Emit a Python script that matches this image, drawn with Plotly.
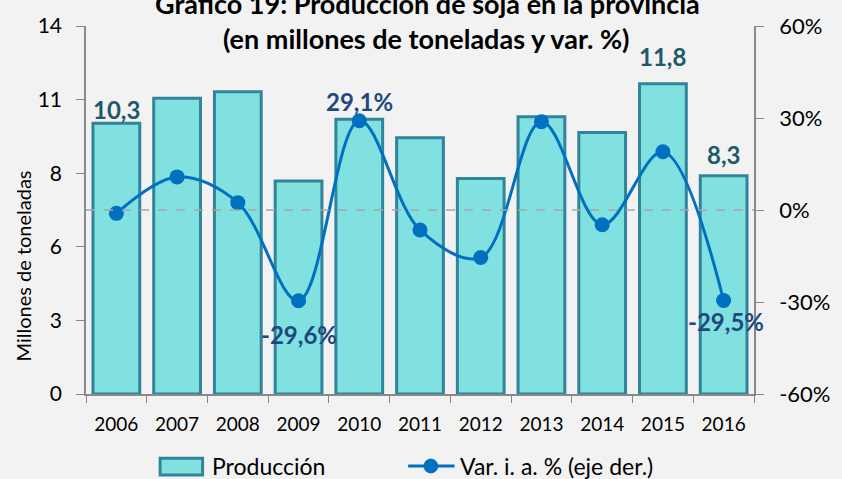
import plotly.graph_objects as go

years = ["2006", "2007", "2008", "2009", "2010", "2011", "2012", "2013", "2014", "2015", "2016"]
produccion = [10.3, 11.25, 11.5, 8.1, 10.45, 9.75, 8.2, 10.55, 9.95, 11.8, 8.3]
variacion = [-1.1, 10.8, 2.4, -29.6, 29.1, -6.5, -15.5, 28.8, -4.8, 19.0, -29.5]

left_tickvals = [0, 2.8, 5.6, 8.4, 11.2, 14]
left_ticktext = ["0", "3", "6", "8", "11", "14"]
right_tickvals = [-60, -30, 0, 30, 60]
right_ticktext = ["-60%", "-30%", "0%", "30%", "60%"]

bar_labels = {"2006": "10,3", "2015": "11,8", "2016": "8,3"}
bar_label_shift = {"2006": 14, "2015": 27, "2016": 21}
line_labels = {"2009": "-29,6%", "2010": "29,1%", "2016": "-29,5%"}
line_label_shift = {"2009": -34, "2010": 19, "2016": -21}

FONT = "Lato"
BAR_FILL = "#80E1E0"
BAR_LINE = "#31849B"
LINE_COLOR = "#0070C0"

# plot area in pixels (for paper-coordinate conversion of decorations)
L, R, T, B = 86, 762, 21, 394
def px(x):
    return (x - L) / (R - L)
def py(y):
    return (B - y) / (B - T)

fig = go.Figure()
fig.add_trace(go.Bar(
    x=years, y=produccion, name="Producción",
    marker=dict(color=BAR_FILL, line=dict(color=BAR_LINE, width=3)),
    width=0.77, yaxis="y", showlegend=False,
))
fig.add_trace(go.Scatter(
    x=years, y=variacion, name="Var. i. a. % (eje der.)", yaxis="y2",
    mode="lines+markers",
    line=dict(color=LINE_COLOR, width=3, shape="spline", smoothing=1.0),
    marker=dict(color=LINE_COLOR, size=15), showlegend=False,
))

fig.add_shape(type="line", xref="paper", x0=0, x1=1, yref="y2", y0=0, y1=0,
              line=dict(color="#A6A6A6", width=1.5, dash="dash"), layer="above")

# legend (drawn manually to mimic the wide bar swatch)
fig.add_shape(type="rect", xref="paper", yref="paper", x0=px(161), x1=px(204), y0=py(476), y1=py(459),
              fillcolor=BAR_FILL, line=dict(color=BAR_LINE, width=3))
fig.add_shape(type="line", xref="paper", yref="paper", x0=px(412), x1=px(459), y0=py(467), y1=py(467),
              line=dict(color=LINE_COLOR, width=3))
fig.add_shape(type="circle", xref="paper", yref="paper", x0=px(428), x1=px(442), y0=py(474), y1=py(460),
              fillcolor=LINE_COLOR, line=dict(color=LINE_COLOR, width=1))

ann = []
for i, yr in enumerate(years):
    if yr in bar_labels:
        ann.append(dict(x=i, y=produccion[i], xref="x", yref="y", text="<b>%s</b>" % bar_labels[yr],
                        showarrow=False, yshift=bar_label_shift[yr], yanchor="middle",
                        font=dict(family=FONT, size=24, color="#215968")))
    if yr in line_labels:
        ann.append(dict(x=i, y=variacion[i], xref="x", yref="y2", text="<b>%s</b>" % line_labels[yr],
                        showarrow=False, yshift=line_label_shift[yr], yanchor="middle",
                        xshift=2 if yr == "2016" else 0,
                        font=dict(family=FONT, size=24, color="#1F497D")))
ann.append(dict(x=px(432), y=1, xref="paper", yref="paper", yshift=23, text="<b>Gráfico 19: Producción de soja en la provincia</b>",
                showarrow=False, yanchor="middle", font=dict(family=FONT, size=27, color="#000000")))
ann.append(dict(x=px(431), y=1, xref="paper", yref="paper", yshift=-12, text="<b>(en millones de toneladas y var. %)</b>",
                showarrow=False, yanchor="middle", font=dict(family=FONT, size=27, color="#000000")))
ann.append(dict(x=px(211), y=py(467), xref="paper", yref="paper", text="Producción", showarrow=False,
                xanchor="left", yanchor="middle", font=dict(family=FONT, size=23, color="#000000")))
ann.append(dict(x=px(462), y=py(467), xref="paper", yref="paper", text="Var. i. a. % (eje der.)", showarrow=False,
                xanchor="left", yanchor="middle", font=dict(family=FONT, size=23, color="#000000")))
ann.append(dict(x=px(22), y=py(264), xref="paper", yref="paper", text="Millones de toneladas", showarrow=False,
                textangle=-90, xanchor="center", yanchor="middle", font=dict(family=FONT, size=20, color="#000000")))

fig.update_layout(
    width=842, height=479,
    margin=dict(l=L, r=842 - R, t=T, b=479 - B),
    paper_bgcolor="#F2F2F2", plot_bgcolor="#F2F2F2",
    font=dict(family=FONT, size=19, color="#000000"),
    bargap=0.23,
    showlegend=False,
    annotations=ann,
    xaxis=dict(type="category", showline=True, linecolor="#898989", linewidth=1.5,
               ticks="outside", tickson="boundaries", ticklen=7, tickcolor="#898989",
               ticklabelstandoff=12,
               tickfont=dict(family=FONT, size=19), showgrid=False, range=[-0.5, 10.5]),
    yaxis=dict(range=[0, 14], tickvals=left_tickvals, ticktext=left_ticktext,
               showline=True, linecolor="#898989", linewidth=1.5, ticks="outside", ticklen=8,
               tickcolor="#898989", showgrid=False, zeroline=False, ticklabelstandoff=10,
               tickfont=dict(family=FONT, size=21)),
    yaxis2=dict(range=[-60, 60], overlaying="y", side="right", tickvals=right_tickvals,
                ticktext=right_ticktext, showline=True, linecolor="#898989", linewidth=1.5,
                ticks="outside", ticklen=8, tickcolor="#898989", showgrid=False, zeroline=False,
                ticklabelstandoff=11, tickfont=dict(family=FONT, size=22)),
)
fig.write_html("out.html", config={"displayModeBar": False},
               post_script="document.body.style.margin='0';document.body.style.background='#F2F2F2';")
